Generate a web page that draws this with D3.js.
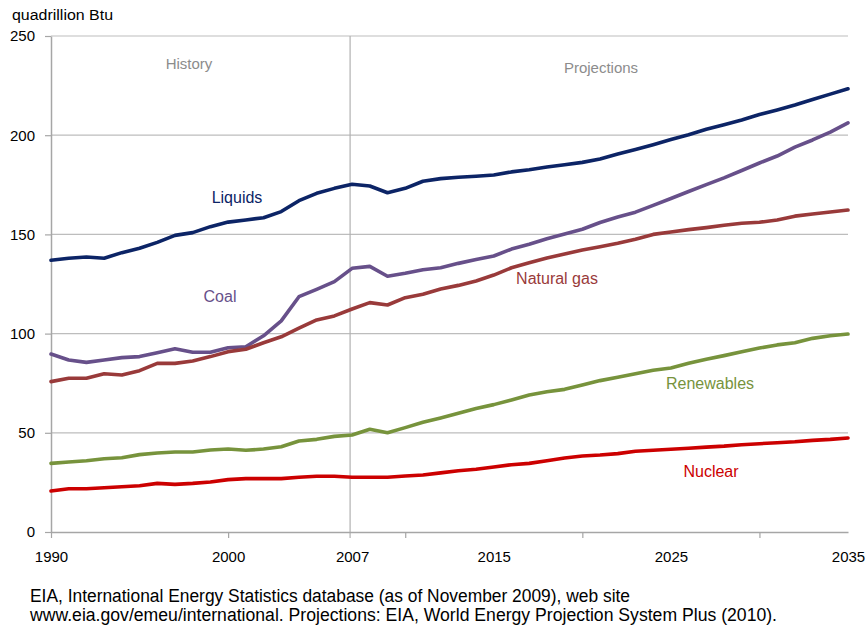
<!DOCTYPE html>
<html>
<head>
<meta charset="utf-8">
<script src="https://cdn.jsdelivr.net/npm/d3@7"></script>
<style>
  body { margin: 0; background: #fff; }
  svg { display: block; font-family: "Liberation Sans", Arial, sans-serif; }
</style>
</head>
<body>
<svg id="chart" width="866" height="626"></svg>
<script>
// World energy consumption by fuel, 1990–2035 (quadrillion Btu)
const years = d3.range(1990, 2036);

const liquids = [137, 138, 138.6, 138, 140.8, 143, 146, 149.5, 150.9, 153.9,
  156.2, 157.3, 158.4, 161.5, 167, 170.7, 173.2, 175.3, 174.4, 171,
  173.2, 176.8, 178.1, 178.8, 179.3, 179.9, 181.5, 182.6, 184, 185.1,
  186.3, 188, 190.5, 192.8, 195.2, 197.8, 200.2, 203, 205.3, 207.7,
  210.4, 212.7, 215.2, 218, 220.7, 223.4];

const coal = [89.7, 86.7, 85.5, 86.7, 87.9, 88.4, 90.4, 92.4, 90.6, 90.6,
  92.9, 93.4, 98.9, 106.4, 118.6, 122.3, 126.2, 132.9, 133.9, 128.9,
  130.4, 132.2, 133.2, 135.4, 137.3, 139.1, 142.6, 145, 147.8, 150.2,
  152.6, 156, 158.8, 161.2, 164.6, 168.1, 171.6, 175.1, 178.5, 182.2,
  186, 189.5, 194, 197.6, 201.6, 206.2];

const naturalGas = [75.8, 77.5, 77.5, 79.8, 79.1, 81.3, 85, 85, 86.2, 88.4,
  90.9, 92.1, 95.4, 98.4, 102.7, 106.9, 108.9, 112.4, 115.6, 114.4,
  118.1, 119.8, 122.5, 124.3, 126.5, 129.5, 133.2, 135.7, 138.1, 140.1,
  142.1, 143.8, 145.5, 147.6, 150, 151.2, 152.4, 153.4, 154.6, 155.6,
  156.1, 157.3, 159.2, 160.3, 161.3, 162.3];

const renewables = [34.6, 35.3, 35.9, 36.9, 37.4, 39, 39.8, 40.3, 40.3, 41.3,
  41.8, 41.2, 41.8, 43, 45.9, 46.7, 48.2, 48.9, 51.8, 50,
  52.6, 55.3, 57.5, 59.8, 62.3, 64.2, 66.5, 69, 70.7, 71.9,
  74.1, 76.3, 78, 79.8, 81.5, 82.7, 85, 87.1, 88.9, 90.9,
  92.7, 94.3, 95.4, 97.6, 98.9, 99.8];

const nuclear = [20.7, 21.8, 21.8, 22.3, 22.8, 23.3, 24.5, 24, 24.5, 25.2,
  26.4, 26.9, 26.9, 26.9, 27.6, 28.1, 28.1, 27.6, 27.6, 27.6,
  28.2, 28.7, 29.8, 30.9, 31.6, 32.8, 33.9, 34.6, 35.9, 37.3,
  38.3, 38.8, 39.5, 40.7, 41.2, 41.7, 42.2, 42.8, 43.3, 44,
  44.5, 45, 45.5, 46.2, 46.7, 47.4];

const yTicks = [0, 50, 100, 150, 200, 250];
const xTickMarks = [1990, 2000, 2010, 2020, 2030];
const xTickLabels = [1990, 2000, 2007, 2015, 2025, 2035];
const historyEnd = 2007;

const series = [
  { name: "Liquids",     values: liquids,    color: "#0c2466", label: [237, 203] },
  { name: "Coal",        values: coal,       color: "#67508a", label: [220, 302] },
  { name: "Natural gas", values: naturalGas, color: "#993a3a", label: [557, 284] },
  { name: "Renewables",  values: renewables, color: "#77933c", label: [710, 389] },
  { name: "Nuclear",     values: nuclear,    color: "#cc0000", label: [711, 477] }
];

const svg = d3.select("#chart");
const plotLeft = 51, plotRight = 848, plotTop = 36, plotBottom = 532;

const x = d3.scaleLinear().domain([1990, 2035]).range([plotLeft, plotRight]);
const y = d3.scaleLinear().domain([0, 250]).range([plotBottom, plotTop]);

// horizontal gridlines
svg.append("g")
  .selectAll("line")
  .data(yTicks.filter(d => d > 0))
  .join("line")
  .attr("x1", plotLeft).attr("x2", plotRight)
  .attr("y1", d => y(d)).attr("y2", d => y(d))
  .attr("stroke", "#bdbdbd").attr("stroke-width", 1.2);

// history / projections divider
svg.append("line")
  .attr("x1", x(historyEnd) - 2).attr("x2", x(historyEnd) - 2)
  .attr("y1", plotTop).attr("y2", plotBottom + 6)
  .attr("stroke", "#b0b0b0").attr("stroke-width", 1.2);

// y axis
const yAxis = svg.append("g")
  .attr("transform", `translate(${plotLeft},0)`)
  .call(d3.axisLeft(y).tickValues(yTicks).tickSize(6).tickSizeOuter(0).tickPadding(10));
yAxis.select(".domain").attr("stroke", "#a6a6a6").attr("stroke-width", 1.5);
yAxis.selectAll(".tick line").attr("stroke", "#a6a6a6").attr("stroke-width", 1.2);
yAxis.selectAll(".tick text").attr("font-size", 15).attr("fill", "#000")
  .attr("font-family", "Liberation Sans, Arial, sans-serif");

// x axis: tick marks
const xMarks = svg.append("g")
  .attr("transform", `translate(0,${plotBottom})`)
  .call(d3.axisBottom(x).tickValues(xTickMarks).tickSize(6).tickSizeOuter(0).tickFormat(""));
xMarks.select(".domain").attr("stroke", "#a6a6a6").attr("stroke-width", 1.5);
xMarks.selectAll(".tick line").attr("stroke", "#a6a6a6").attr("stroke-width", 1.2);

// x axis: year labels
const xLabels = svg.append("g")
  .attr("transform", `translate(0,${plotBottom})`)
  .call(d3.axisBottom(x).tickValues(xTickLabels).tickSize(0).tickPadding(19).tickFormat(d3.format("d")));
xLabels.select(".domain").remove();
xLabels.selectAll(".tick text").attr("font-size", 15).attr("fill", "#000")
  .attr("font-family", "Liberation Sans, Arial, sans-serif");

// unit title
svg.append("text")
  .attr("x", 12).attr("y", 20)
  .attr("font-size", 14).attr("fill", "#000")
  .attr("textLength", 101).attr("lengthAdjust", "spacingAndGlyphs")
  .text("quadrillion Btu");

// period labels
svg.append("text").attr("x", 189).attr("y", 69).attr("text-anchor", "middle")
  .attr("font-size", 15).attr("fill", "#8c8c8c").text("History");
svg.append("text").attr("x", 601).attr("y", 73).attr("text-anchor", "middle")
  .attr("font-size", 15).attr("fill", "#8c8c8c").text("Projections");

// series lines
const line = d3.line()
  .x((d, i) => x(years[i]))
  .y(d => y(d));

svg.append("g")
  .selectAll("path")
  .data(series)
  .join("path")
  .attr("d", d => line(d.values))
  .attr("fill", "none")
  .attr("stroke", d => d.color)
  .attr("stroke-width", 3.6)
  .attr("stroke-linejoin", "round")
  .attr("stroke-linecap", "round");

// series labels
svg.append("g")
  .selectAll("text")
  .data(series)
  .join("text")
  .attr("x", d => d.label[0])
  .attr("y", d => d.label[1])
  .attr("text-anchor", "middle")
  .attr("font-size", 16)
  .attr("fill", d => d.color)
  .text(d => d.name);

// source note
svg.append("text").attr("x", 30).attr("y", 602)
  .attr("font-size", 18).attr("fill", "#000")
  .attr("textLength", 600).attr("lengthAdjust", "spacingAndGlyphs")
  .text("EIA, International  Energy Statistics database (as of November 2009), web site");
svg.append("text").attr("x", 30).attr("y", 621)
  .attr("font-size", 18).attr("fill", "#000")
  .attr("textLength", 747).attr("lengthAdjust", "spacingAndGlyphs")
  .text("www.eia.gov/emeu/international. Projections:  EIA, World Energy Projection System Plus (2010).");
</script>
</body>
</html>
